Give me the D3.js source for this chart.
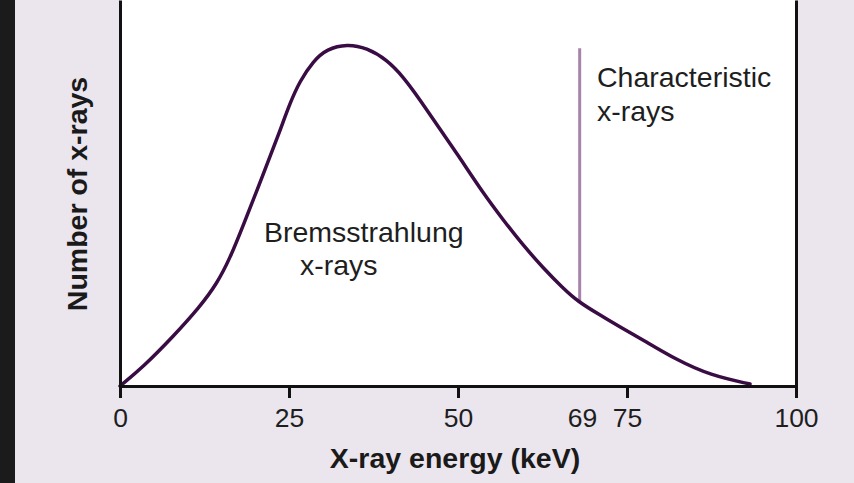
<!DOCTYPE html>
<html>
<head>
<meta charset="utf-8">
<script src="https://cdn.jsdelivr.net/npm/d3@7"></script>
<style>
  html, body { margin: 0; padding: 0; background: #ebe5ee; }
  svg { display: block; font-family: "Liberation Sans", Arial, Helvetica, sans-serif; }
</style>
</head>
<body>
<svg id="chart" width="854" height="483"></svg>
<script>
// spectrum (energy in keV, relative count 0-100)
const energy = [ 0, 3.4, 7.8, 11.8, 14.3, 16.3, 18.2, 21.2, 23.7, 25.1, 26.6, 28.6,
  30.6, 33.6, 36.5, 39.5, 41.9, 44.4, 47.3, 49.9, 53.7, 56.7, 59.6, 62.6,
  65.5, 67.8, 71.0, 74.0, 77.4, 82.4, 87.3, 93.2 ];
const counts = [ 0, 4.9, 12.7, 20.5, 26.4, 33.2, 41.5, 54.9, 66.3, 73.1, 79.0, 84.2,
  87.3, 88.6, 87.6, 84.5, 80.1, 74.1, 66.6, 60.1, 50.0, 43.0, 36.5, 30.6,
  25.4, 21.8, 18.4, 15.3, 11.9, 6.7, 2.8, 0.5 ];

// characteristic line: position and its end points
const charEnergy = 68.0;
const charCounts = [ 21.8, 87.5 ];

const tickValues = [ 0, 25, 50, 75, 100 ];
const extraLabels = [ { v: 68.4, label: "69" } ];

const bremsLabel = [ "Bremsstrahlung", "x-rays" ];
const charLabel = [ "Characteristic", "x-rays" ];

const WIDTH = 854;
const HEIGHT = 483;
const MARGINS = {
  top   : 0,
  right : 58,
  bottom: 97,
  left  : 120,
};

const svg = d3.select( "#chart" );

// dark strip on the left edge
svg.append( "rect" )
  .attr( "x", 0 ).attr( "y", 0 )
  .attr( "width", 15 ).attr( "height", HEIGHT )
  .attr( "fill", "#1c1b1c" );

const x = d3.scaleLinear()
  .domain( [ 0, 100 ] )
  .range( [ MARGINS.left, WIDTH - MARGINS.right ] );
const y = d3.scaleLinear()
  .domain( [ 0, 100 ] )
  .range( [ HEIGHT - MARGINS.bottom, MARGINS.top ] );

// white plotting area
svg.append( "rect" )
  .attr( "x", x( 0 ) )
  .attr( "y", y( 100 ) )
  .attr( "width", x( 100 ) - x( 0 ) )
  .attr( "height", y( 0 ) - y( 100 ) )
  .attr( "fill", "#ffffff" );

const points = energy.map( ( e, i ) => ( { e, c: counts[i] } ) );

const line = d3.line()
  .x( d => x( d.e ) )
  .y( d => y( d.c ) )
  .curve( d3.curveBasis );

// characteristic line
svg.append( "line" )
  .attr( "x1", x( charEnergy ) )
  .attr( "x2", x( charEnergy ) )
  .attr( "y1", y( charCounts[0] ) )
  .attr( "y2", y( charCounts[1] ) )
  .attr( "stroke", "#a783aa" )
  .attr( "stroke-width", 3 );

svg.append( "path" )
  .datum( points )
  .attr( "d", line )
  .attr( "fill", "none" )
  .attr( "stroke", "#3a0c44" )
  .attr( "stroke-width", 3.5 )
  .attr( "stroke-linecap", "round" );

// axes
const xAxis = d3.axisBottom( x )
  .tickValues( tickValues )
  .tickSize( 12 )
  .tickSizeOuter( 0 );

const gx = svg.append( "g" )
  .attr( "transform", `translate(0,${y( 0 )})` )
  .call( xAxis );
gx.select( ".domain" ).attr( "stroke", "#111" ).attr( "stroke-width", 3 );
gx.selectAll( ".tick line" ).attr( "stroke", "#111" ).attr( "stroke-width", 3 );
gx.selectAll( ".tick text" )
  .attr( "y", 41 )
  .attr( "dy", null )
  .attr( "fill", "#1e1e1e" )
  .style( "font-size", "26.5px" )
  .style( "font-family", "\"Liberation Sans\", Arial, sans-serif" );

svg.selectAll( "text.extra" )
  .data( extraLabels )
  .enter()
  .append( "text" )
  .attr( "class", "extra" )
  .attr( "x", d => x( d.v ) )
  .attr( "y", y( 0 ) + 41 )
  .attr( "text-anchor", "middle" )
  .attr( "fill", "#1e1e1e" )
  .style( "font-size", "26.5px" )
  .text( d => d.label );

const gl = svg.append( "g" )
  .attr( "transform", `translate(${x( 0 )},0)` )
  .call( d3.axisLeft( y ).tickValues( [] ).tickSizeOuter( 0 ) );
gl.select( ".domain" ).attr( "stroke", "#111" ).attr( "stroke-width", 3 );

const gr = svg.append( "g" )
  .attr( "transform", `translate(${x( 100 )},0)` )
  .call( d3.axisRight( y ).tickValues( [] ).tickSizeOuter( 0 ) );
gr.select( ".domain" ).attr( "stroke", "#111" ).attr( "stroke-width", 3 );

// axis titles
svg.append( "text" )
  .attr( "x", 455 )
  .attr( "y", 468 )
  .attr( "text-anchor", "middle" )
  .attr( "fill", "#1a1a1a" )
  .style( "font-size", "28.5px" )
  .style( "font-weight", "bold" )
  .text( "X-ray energy (keV)" );

svg.append( "text" )
  .attr( "transform", "translate(87,194) rotate(-90)" )
  .attr( "text-anchor", "middle" )
  .attr( "fill", "#1a1a1a" )
  .style( "font-size", "28.5px" )
  .style( "font-weight", "bold" )
  .text( "Number of x-rays" );

// annotations
const bremsX = [ 264, 300 ];
svg.selectAll( "text.brems" )
  .data( bremsLabel )
  .enter()
  .append( "text" )
  .attr( "class", "brems" )
  .attr( "x", ( d, i ) => bremsX[i] )
  .attr( "y", ( d, i ) => 242 + i * 33 )
  .attr( "fill", "#1e1e1e" )
  .style( "font-size", "28.5px" )
  .text( d => d );

svg.selectAll( "text.char" )
  .data( charLabel )
  .enter()
  .append( "text" )
  .attr( "class", "char" )
  .attr( "x", 597 )
  .attr( "y", ( d, i ) => 87 + i * 34 )
  .attr( "fill", "#1e1e1e" )
  .style( "font-size", "28.5px" )
  .text( d => d );
</script>
</body>
</html>
